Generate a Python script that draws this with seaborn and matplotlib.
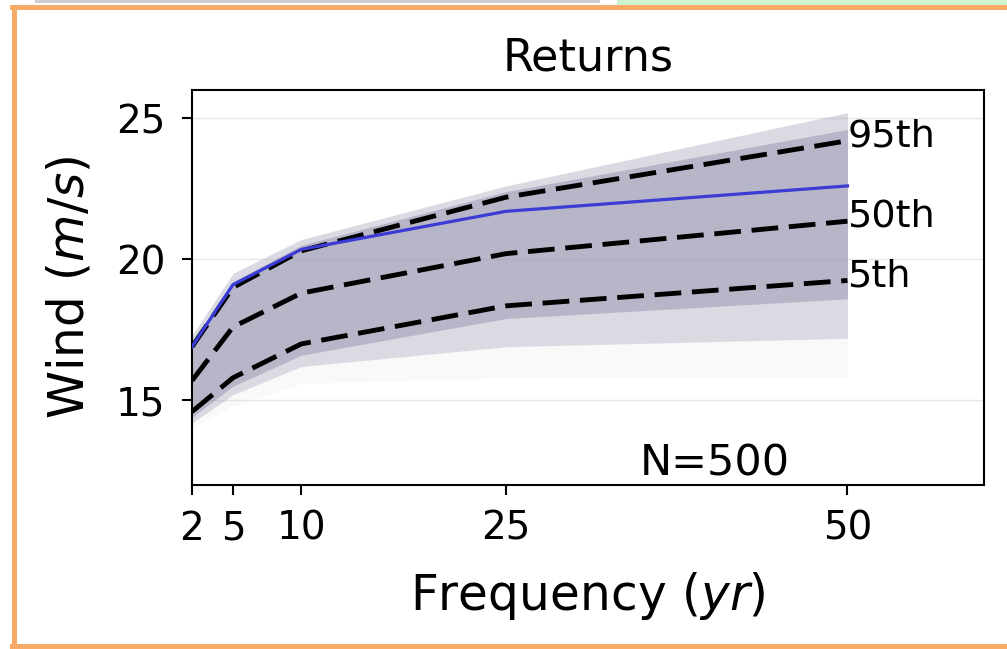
import numpy as np
import pandas as pd
import seaborn as sns
import matplotlib.pyplot as plt
from matplotlib.lines import Line2D
from matplotlib.patches import Rectangle

# return periods (yr) and wind speeds (m/s)
periods = [2, 5, 10, 25, 50]
p95 = [16.9, 19.0, 20.3, 22.2, 24.2]
p50 = [15.7, 17.6, 18.8, 20.2, 21.35]
p5 = [14.6, 15.8, 17.0, 18.35, 19.25]
observed = [16.9, 19.1, 20.35, 21.7, 22.6]

# spread of the 500 ensemble members (envelopes)
cloud_top = [17.3, 19.5, 20.7, 22.6, 25.2]
cloud_core_top = [17.1, 19.2, 20.5, 22.4, 24.6]
cloud_core_low = [14.4, 15.5, 16.6, 17.9, 18.6]
cloud_low = [14.2, 15.2, 16.2, 16.9, 17.2]
cloud_faint_low = [14.0, 14.8, 15.6, 15.8, 15.8]

pct_labels = ["95th", "50th", "5th"]
n_members = 500

W, H = 1007, 649
fig = plt.figure(figsize=(W / 100, H / 100), dpi=100)
ax = fig.add_axes([192 / W, 1 - 485 / H, (984 - 192) / W, (485 - 90) / H])

# screenshot frame
fig.patches.append(Rectangle((35 / W, 1 - 3 / H), 565 / W, 3 / H, transform=fig.transFigure,
                             color="#cfcfcf", lw=0))
fig.patches.append(Rectangle((617 / W, 1 - 5 / H), 390 / W, 5 / H, transform=fig.transFigure,
                             color="#cdf3cf", lw=0))
orange = "#f8ab66"
for xs, ys in [((14, 14), (7, 647)), ((12, W), (7, 7)), ((12, W), (646, 646))]:
    fig.lines.append(Line2D([x / W for x in xs], [1 - y / H for y in ys],
                            transform=fig.transFigure, color=orange, lw=3.6))

# ensemble cloud
cloud = "#8c8ca8"
ax.fill_between(periods, cloud_faint_low, cloud_top, color=cloud, alpha=0.05, lw=0, zorder=1)
ax.fill_between(periods, cloud_low, cloud_top, color=cloud, alpha=0.28, lw=0, zorder=1)
ax.fill_between(periods, cloud_core_low, cloud_core_top, color=cloud, alpha=0.45, lw=0, zorder=1)

df = pd.DataFrame({
    "period": periods * 3,
    "wind": p95 + p50 + p5,
    "pct": np.repeat(pct_labels, len(periods)),
})
sns.lineplot(data=df, x="period", y="wind", units="pct", estimator=None,
             color="black", linewidth=3.5, linestyle=(0, (5.5, 2.2)), ax=ax, zorder=3)
sns.lineplot(x=periods, y=observed, color="#3b3bd6", linewidth=2.3, ax=ax, zorder=4)

for lab, vals in zip(pct_labels, [p95, p50, p5]):
    ax.text(periods[-1], vals[-1] + 0.15, lab, ha="left", va="center", fontsize=27.5)
ax.text(40.3, 12.02, f"N={n_members}", ha="center", va="bottom", fontsize=31)

ax.set_xlim(2, 60)
ax.set_ylim(12, 26)
ax.set_xticks(periods)
ax.set_yticks([15, 20, 25])
ax.yaxis.grid(True, color="#e8e8e8", lw=1.0, zorder=0)
ax.set_axisbelow(True)
ax.tick_params(labelsize=28, length=7, width=1.5, direction="out")
ax.tick_params(axis="x", pad=11)
ax.tick_params(axis="y", pad=12)
for s in ax.spines.values():
    s.set_linewidth(1.5)

ax.set_title("Returns", fontsize=32, pad=14)
ax.set_xlabel("Frequency ($yr$)", fontsize=35, labelpad=16)
ax.set_ylabel("Wind ($m/s$)", fontsize=35, labelpad=16)

fig.savefig("out.png", dpi=100, facecolor="white")
